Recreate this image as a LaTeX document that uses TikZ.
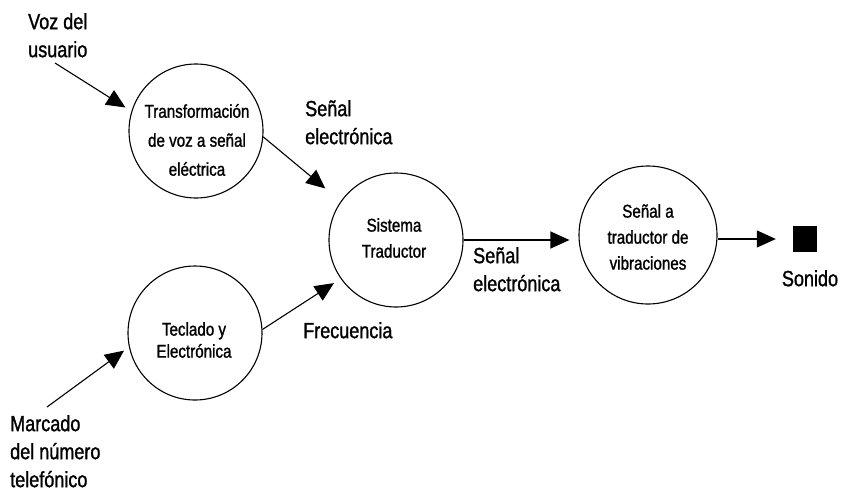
\documentclass[tikz,border=0pt]{standalone}
\usepackage{fontspec}
\setmainfont{Liberation Sans}[FakeStretch=0.82,FakeBold=1.2]
\usetikzlibrary{arrows.meta}
\begin{document}
\begin{tikzpicture}[x=1pt,y=-1pt,
  proc/.style={draw, circle, line width=1.1pt, minimum size=134pt, inner sep=0pt},
  ptext/.style={align=center, inner sep=0pt, font=\fontsize{18.5}{#1}\selectfont},
  ptext/.default=26,
  flow/.style={line width=1.1pt, -{Triangle[length=19pt,width=17pt]}},
  lbl/.style={align=left, inner sep=0pt, anchor=north west, font=\fontsize{22}{28}\selectfont}]
\path[use as bounding box] (0,0) rectangle (845,493);

% processes
\node[proc] (c1) at (196,131) {};
\node[proc] (c2) at (396,240) {};
\node[proc, minimum size=138pt] (c3) at (648,235) {};
\node[proc] (c4) at (195,333) {};

\node[ptext=29] (t1) at (197,140) {Transformación\\de voz a señal\\eléctrica};
\node[ptext] (t2) at (394,238) {Sistema\\Traductor};
\node[ptext] (t3) at (648,237) {Señal a\\traductor de\\vibraciones};
\node[ptext=22] (t4) at (194,340) {Teclado y\\Electrónica};

% sound output
\node[fill, minimum width=24pt, minimum height=26pt, inner sep=0pt] (snd) at (805,239) {};

% free labels
\node[lbl] (voz) at (28,13) {Voz del\\usuario};
\node[lbl] (s1) at (305,100) {Señal\\electrónica};
\node[lbl] (fr) at (303,322) {Frecuencia};
\node[lbl] (mc) at (10,415) {Marcado\\del número\\telefónico};
\node[lbl] (s2) at (473,247) {Señal\\electrónica};
\node[lbl, anchor=north] (so) at (810,270) {Sonido};

% flows
\coordinate (vz) at (55,63);
\coordinate (mk) at (47,407);
\draw[flow, shorten >=7pt] (vz) -- (c1.163);
\draw[flow, shorten >=20pt] (c1.-5) -- (c2.145);
\draw[flow, shorten >=8pt] (c4.3) -- (c2.215);
\draw[flow, shorten >=6pt] (mk) -- (c4.192);
\draw[flow, shorten >=9pt] (c2.east) -- (c2.east -| c3.west);
\draw[flow, shorten >=17pt] (c3.east |- snd.west) -- (snd.west);
\end{tikzpicture}
\end{document}
